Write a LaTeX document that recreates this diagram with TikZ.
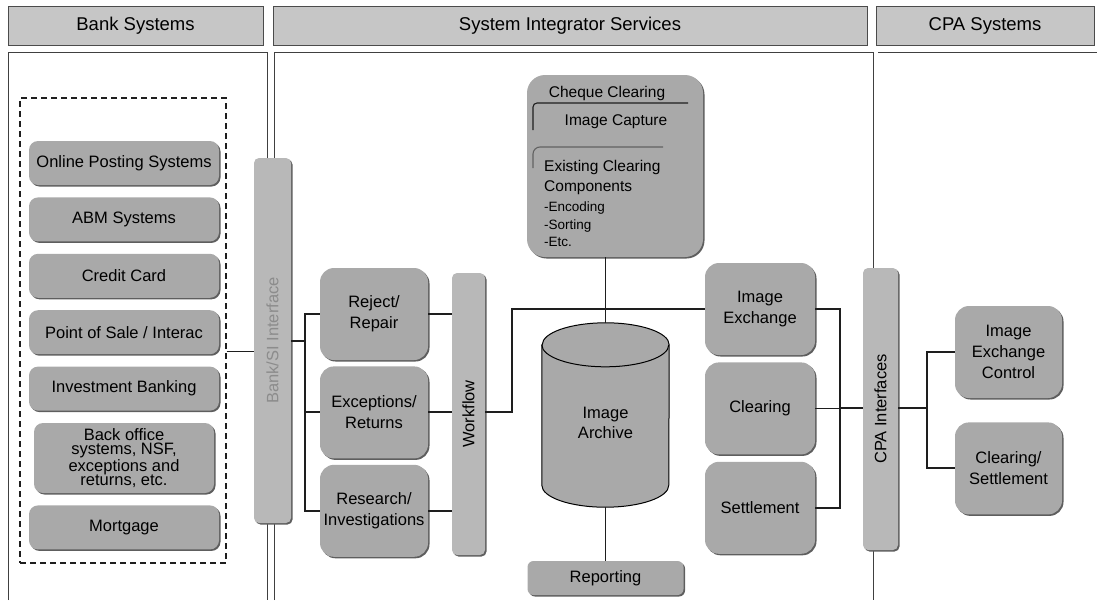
\documentclass[tikz,border=0pt]{standalone}
\usepackage{fontspec}
\setmainfont{Liberation Sans}
\usepackage{tikz}
\usetikzlibrary{positioning, shadows, calc}
\usepackage{xcolor}
\usepackage{graphicx}
\definecolor{bkhead}{HTML}{C6C6C6}
\definecolor{bkbox}{HTML}{A9A9A9}
\definecolor{bkbar}{HTML}{B8B8B8}
\definecolor{bkshade}{HTML}{5E5E5E}
\definecolor{bkline}{HTML}{1E1E1E}

\begin{document}
\begin{tikzpicture}[x=1pt, y=-1pt,
          head/.style={draw=bkline!80, line width=1pt, fill=bkhead, font=\fontsize{18.5}{18.5}\selectfont, minimum height=39pt},
          sysbox/.style={fill=bkbox, rounded corners=9pt, drop shadow={shadow xshift=1.5pt, shadow yshift=-1.5pt, fill=bkshade, opacity=1}, font=\fontsize{16.5}{19}\selectfont, align=center, minimum width=190pt, minimum height=44pt, inner sep=2pt},
          flowbox/.style={sysbox, minimum width=108pt, minimum height=92pt, rounded corners=14pt, font=\fontsize{16.5}{21}\selectfont},
          bar/.style={fill=bkbar, rounded corners=5pt, drop shadow={shadow xshift=1.5pt, shadow yshift=-1.5pt, fill=bkshade, opacity=1}, font=\fontsize{16.5}{16.5}\selectfont, inner sep=0pt},
          panel/.style={line width=1pt, bkline!85},
          link/.style={line width=2pt, bkline},
          thinlink/.style={line width=1.1pt, bkline}]
        \useasboundingbox (0,0) rectangle (1097,600);
        % column headings
        \node[head, minimum width=255pt] (bkhd) at (135.5,25.5) {Bank Systems};
        \node[head, minimum width=594pt] (sihd) at (570,25.5) {System Integrator Services};
        \node[head, minimum width=218pt] (cpahd) at (985,25.5) {CPA Systems};
        \draw[panel] (8,600) |- (267,52) -- (267,600);
        \draw[panel] (274,600) |- (873,52) -- (873,600);
        \draw[panel] (878,52) -- (1097,52);

        % bank systems
        \node[draw=bkline, line width=1.3pt, dash pattern=on 6pt off 4pt, minimum width=206pt, minimum height=465pt] (bank) at (123,330.5) {};
        \node[sysbox] (onl) at (124,163) {Online Posting Systems};
        \node[sysbox, below=12pt of onl] (abm) {ABM Systems};
        \node[sysbox, below=12pt of abm] (crd) {Credit Card};
        \node[sysbox, below=12pt of crd] (pos) {Point of Sale / Interac};
        \node[sysbox, below=12pt of pos] (inv) {Investment Banking};
        \node[sysbox, below=12pt of inv, minimum width=180pt, minimum height=70pt, font=\fontsize{16.5}{14.5}\selectfont] (bko) {Back office\\systems, NSF,\\exceptions and\\returns, etc.};
        \node[sysbox, below=12pt of bko] (mtg) {Mortgage};
        \node[bar, minimum width=37pt, minimum height=365pt, text=black!45] (bsi) at (272.5,340.5) {\rotatebox{90}{Bank/SI Interface}};
        \draw[thinlink] ([yshift=-21pt]bank.east) -- ([yshift=-21pt]bank.east -| bsi.west);

        % system integrator services
        \node[flowbox] (rej) at (374,314) {Reject/\\Repair};
        \node[flowbox, below=6pt of rej] (exc) {Exceptions/\\Returns};
        \node[flowbox, below=6pt of exc] (res) {Research/\\Investigations};
        \node[bar, minimum width=33pt, minimum height=282pt] (wf) at (468.5,414) {\rotatebox{90}{Workflow}};
        \draw[link] (bsi.east) -- ++(14,0) coordinate (lspine);
        \draw[link] (rej.west) -| (lspine) |- (res.west);
        \draw[link] (exc.west) -- (exc.west -| lspine);
        \foreach \n in {rej,exc,res}
          \draw[link] (\n.east) -- (\n.east -| wf.west);

        \node[sysbox, minimum width=176pt, minimum height=182pt, rounded corners=18pt] (chq) at (615,166) {};
        \node[inner sep=0pt, font=\fontsize{15.5}{15.5}\selectfont] (chqt) at (607,93) {Cheque Clearing};
        \draw[thinlink, rounded corners=4pt] (533,130) |- (688,103);
        \node[inner sep=0pt, font=\fontsize{15.5}{15.5}\selectfont] (capt) at (616,122) {Image Capture};
        \draw[thinlink, bkline!70, rounded corners=7pt] (533,168) |- (663,147);
        \node[inner sep=0pt, anchor=north west, align=left, font=\fontsize{15.5}{20}\selectfont] (exist) at (544,160) {Existing Clearing\\Components};
        \node[inner sep=0pt, anchor=north west, align=left, font=\fontsize{13.5}{17.5}\selectfont] (steps) at (544,202) {-Encoding\\-Sorting\\-Etc.};

        \node[minimum width=127pt, minimum height=184pt, inner sep=0pt] (arch) at (605.5,415) {};
        \draw[line width=1pt, fill=bkbox] ($(arch.north west)+(0,22)$) -- ($(arch.south west)+(0,-22)$)
          arc[start angle=180, end angle=360, x radius=63.5pt, y radius=22pt]
          -- ($(arch.north east)+(0,22)$)
          arc[start angle=0, end angle=180, x radius=63.5pt, y radius=22pt] -- cycle;
        \draw[line width=1pt] ($(arch.north west)+(0,22)$) arc[start angle=180, end angle=360, x radius=63.5pt, y radius=22pt];
        \node[align=center, font=\fontsize{16.5}{20}\selectfont] (archt) at ([yshift=-8pt]arch.center) {Image\\Archive};
        \node[sysbox, minimum width=156pt, minimum height=34pt, rounded corners=6pt] (rep) at (605.5,578) {Reporting};
        \draw[thinlink] (chq.south -| arch.north) -- (arch.north);
        \draw[thinlink] (arch.south) -- (rep.north);

        % cpa systems
        \node[bar, minimum width=35pt, minimum height=282pt] (cpa) at (880.5,409) {\rotatebox{90}{CPA Interfaces}};
        \node[flowbox, minimum width=110pt] (imx) at (760,309) {Image\\Exchange};
        \node[flowbox, minimum width=110pt, below=7pt of imx] (clr) {Clearing};
        \node[flowbox, minimum width=110pt, below=7pt of clr] (stl) {Settlement};
        \draw[link] (exc.east -| wf.east) -- ++(27,0) |- (imx.west);
        \draw[link] (imx.east) -- ++(25,0) coordinate (mspine) |- (stl.east);
        \draw[thinlink] (clr.east) -- (clr.east -| mspine);
        \draw[link] (clr.east -| mspine) -- (clr.east -| cpa.west);

        \node[flowbox, minimum width=107pt] (iec) at (1008.5,352) {Image\\Exchange\\Control};
        \node[flowbox, minimum width=107pt, below=24pt of iec] (cs) {Clearing/\\Settlement};
        \draw[link] (clr.east -| cpa.east) -- ++(29,0) coordinate (rspine);
        \draw[link] (iec.west) -| (rspine) |- (cs.west);
      \end{tikzpicture}
\end{document}
